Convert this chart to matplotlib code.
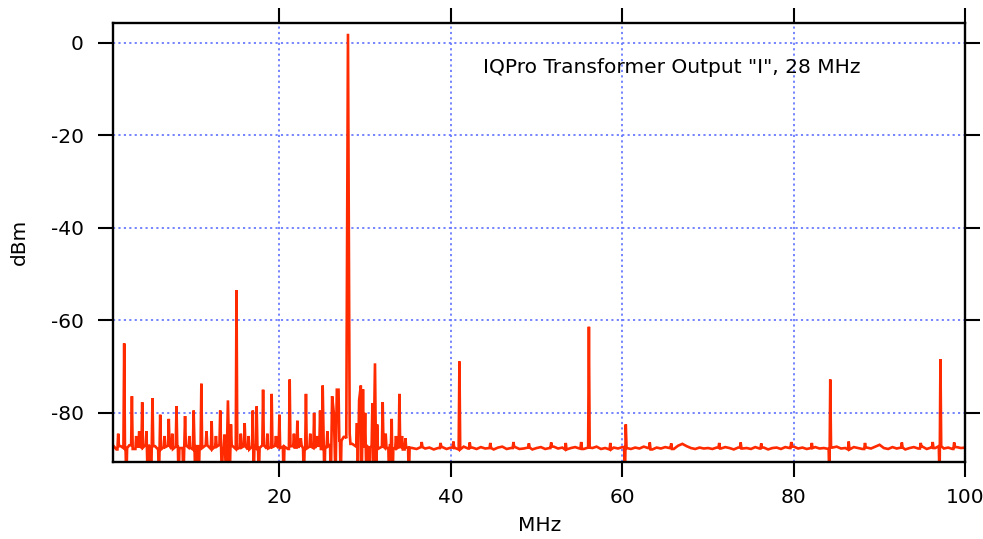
import numpy as np
import matplotlib
matplotlib.use("Agg")
import matplotlib.pyplot as plt

# Noise-floor readings on a 0.5 MHz grid (0.5 ... 100 MHz), dBm
floor_freq = np.arange(0.5, 100.01, 0.5)
floor_dbm = [
    -86.8, -87.9, -87.2, -87.6, -87.0, -87.8, -87.3, -87.5, -86.9, -87.7, -87.2, -87.9, -87.4, -87.1, -87.8, -87.3, -87.6, -87.0, -87.5, -87.9,
    -87.2, -87.6, -87.0, -87.8, -87.3, -86.9, -87.7, -87.4, -87.1, -87.8, -87.5, -87.2, -87.9, -87.3, -87.6, -87.0, -87.7, -87.4, -87.1, -87.6,
    -87.3, -87.8, -87.2, -87.5, -87.0, -87.7, -87.3, -87.6, -87.1, -87.8, -87.4, -86.8, -86.5, -86.0, -85.2, -86.0, -86.7, -87.3, -87.6, -87.2,
    -87.5, -87.1, -87.8, -87.3, -87.6, -87.0, -87.7, -87.4, -87.9, -87.5, -87.6, -87.8, -87.4, -87.7, -87.5, -87.9, -87.6, -87.4, -87.8, -87.5,
    -87.6, -87.9, -87.3, -87.7, -87.5, -87.8, -87.4, -87.7, -87.6, -87.9, -87.5, -87.3, -87.8, -87.6, -87.4, -87.8, -87.7, -87.5, -87.9, -87.6,
    -87.4, -87.8, -87.6, -87.3, -87.7, -87.5, -87.9, -87.6, -87.4, -87.7, -87.8, -87.5, -87.6, -87.3, -87.8, -87.6, -87.9, -87.5, -87.7, -87.4,
    -87.6, -87.8, -87.5, -87.7, -87.3, -87.6, -87.9, -87.5, -87.7, -87.4, -87.6, -87.8, -87.1, -86.7, -87.2, -87.6, -87.8, -87.5, -87.7, -87.6,
    -87.8, -87.5, -87.7, -87.4, -87.6, -87.9, -87.5, -87.7, -87.6, -87.8, -87.4, -87.7, -87.5, -87.9, -87.6, -87.5, -87.8, -87.4, -87.6, -87.3,
    -87.7, -87.5, -87.8, -87.6, -87.4, -87.7, -87.6, -87.8, -87.5, -87.3, -87.7, -87.6, -87.9, -87.4, -87.6, -87.8, -87.5, -87.7, -87.3, -86.9,
    -87.6, -87.8, -87.4, -87.7, -87.5, -87.9, -87.6, -87.4, -87.7, -87.3, -87.8, -87.5, -87.6, -87.2, -87.7, -87.5, -87.8, -87.4, -87.6, -87.5,
]

# Upward spurs / tones (MHz, dBm)
spur_freq = [1.2, 1.9, 2.8, 3.3, 3.65, 4.0, 4.5, 5.2, 6.1, 6.6, 7.1, 7.5, 8.0, 9.0, 9.5, 10.0,
             10.9, 11.5, 12.1, 12.6, 13.1, 13.6, 14.0, 14.35, 15.0, 15.5, 15.95, 16.4, 16.9,
             17.35, 18.1, 18.6, 19.1, 19.6, 20.0, 21.2, 21.7, 22.1, 22.5, 23.1, 23.6, 24.05,
             24.4, 24.75, 25.05, 25.6, 26.15, 26.35, 26.7, 26.9, 27.8, 28.0, 28.2, 29.05, 29.3,
             29.5, 29.75, 30.0, 30.85, 31.15, 31.4, 32.05, 32.4, 33.1, 33.6, 34.0, 34.3, 34.7,
             41.0, 56.1, 60.4, 84.25, 97.1]
spur_dbm = [-84.5, -65.0, -76.4, -85.0, -84.0, -77.7, -84.0, -76.8, -80.4, -85.0, -81.3, -84.5, -78.6, -80.7, -85.0, -79.5,
            -73.7, -84.0, -81.8, -85.0, -79.5, -84.7, -77.3, -82.5, -53.5, -84.5, -82.2, -85.0, -79.5,
            -78.6, -75.0, -84.5, -75.9, -85.0, -80.4, -72.8, -84.5, -81.7, -85.5, -75.9, -84.5, -80.0,
            -85.0, -79.5, -74.1, -84.0, -76.4, -80.0, -75.0, -75.0, -85.5, 1.9, -84.5, -82.2, -77.3,
            -74.1, -74.9, -80.0, -77.9, -69.3, -82.5, -77.7, -84.5, -81.3, -85.0, -75.9, -85.0, -85.5,
            -68.9, -61.4, -82.5, -72.8, -68.4]

# Small floor ripples above 35 MHz (MHz, dBm)
ripple_freq = [36.6, 38.8, 40.3, 42.2, 44.6, 47.3, 49.1, 51.7, 53.4, 55.2, 58.6, 63.2, 65.7,
               71.3, 73.8, 76.2, 79.7, 82.1, 86.4, 88.3, 92.6, 94.8, 96.2, 98.7]
ripple_dbm = [-86.3, -86.5, -86.2, -86.4, -86.5, -86.3, -86.6, -86.4, -86.5, -86.3, -86.5, -86.4, -86.6,
              -86.5, -86.4, -86.6, -86.3, -86.5, -86.2, -86.5, -86.4, -86.5, -86.3, -86.4]

# Downward dips running off the bottom of the plot (MHz, dBm)
dip_freq = [2.15, 4.65, 5.05, 5.95, 8.25, 8.8, 10.2, 10.6, 13.3, 13.8, 14.2, 17.0, 17.6, 20.5,
            22.85, 25.25, 26.0, 26.55, 27.15, 29.15, 29.6, 30.15, 30.5, 30.95, 31.3, 32.8, 33.2,
            35.1, 60.3, 84.15, 97.0]
dip_dbm = [-95.0] * len(dip_freq)

# ---- assemble the trace from the readings ----
ev_f = np.array(spur_freq + ripple_freq + dip_freq)
ev_v = np.array(spur_dbm + ripple_dbm + dip_dbm)
floor_f = np.asarray(floor_freq)
floor_v = np.asarray(floor_dbm)

pts = []
for f, v in zip(floor_f, floor_v):
    if np.min(np.abs(ev_f - f)) >= 0.15:
        pts.append((f, v))
d = 0.09
for f, v in zip(ev_f, ev_v):
    pts.append((f, v))
    for s in (f - d, f + d):
        others = np.abs(ev_f - s)
        others = others[np.abs(ev_f - f) > 1e-9]
        if others.size == 0 or np.min(others) >= 0.15:
            nearest = floor_v[np.argmin(np.abs(floor_f - s))]
            pts.append((s, nearest))
pts.sort()
tx = np.array([p[0] for p in pts])
ty = np.array([p[1] for p in pts])

fig = plt.figure(figsize=(9.83, 5.39), dpi=100)
ax = fig.add_axes([0.115, 0.143, 0.867, 0.815])

ax.plot(tx, ty, color="#ff2a00", lw=1.9, solid_joinstyle="miter")

ax.set_xlim(0.6, 100)
ax.set_ylim(-90.6, 4.3)
ax.set_xticks([20, 40, 60, 80, 100])
ax.set_yticks([0, -20, -40, -60, -80])
ax.set_yticklabels(["0", "-20", "-40", "-60", "-80"])

ax.grid(True, color="#6b7bff", linestyle=(0, (1.2, 1.8)), lw=1.3)
ax.set_axisbelow(True)

for sp in ax.spines.values():
    sp.set_linewidth(1.7)
ax.tick_params(axis="both", which="major", direction="out", length=11, width=1.5,
               labelsize=14.5, top=True, right=True, labeltop=False, labelright=False)
ax.tick_params(axis="x", pad=8)
ax.tick_params(axis="y", pad=10)

ax.set_xlabel("MHz", fontsize=14.5, labelpad=6)
ax.set_ylabel("dBm", fontsize=14.5, labelpad=16)

ax.text(0.434, 0.897, 'IQPro Transformer Output "I", 28 MHz', transform=ax.transAxes,
        fontsize=14.5, ha="left", va="center")

fig.savefig("out.png", dpi=100)
